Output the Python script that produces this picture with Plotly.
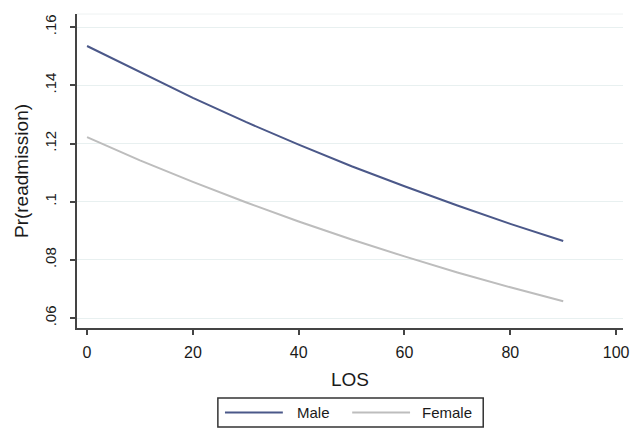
import plotly.graph_objects as go

los = [0, 10, 20, 30, 40, 50, 60, 70, 80, 90]
male = [0.1535, 0.1445, 0.1357, 0.1274, 0.1196, 0.1122, 0.1053, 0.0987, 0.0924, 0.0865]
female = [0.1222, 0.1142, 0.1068, 0.0998, 0.0932, 0.0870, 0.0812, 0.0757, 0.0706, 0.0658]
xticks = [0, 20, 40, 60, 80, 100]
yticks = [0.06, 0.08, 0.10, 0.12, 0.14, 0.16]
ylabels = [".06", ".08", ".1", ".12", ".14", ".16"]
series_names = ["Male", "Female"]
series_colors = ["#4b5889", "#bdbdbd"]

font = "Liberation Sans, Arial, sans-serif"

fig = go.Figure()
for vals, name, col in zip([male, female], series_names, series_colors):
    fig.add_trace(go.Scatter(x=los, y=vals, mode="lines", name=name,
                             line=dict(color=col, width=2)))

fig.update_layout(
    width=630, height=428,
    margin=dict(l=77, r=7, t=14, b=100),
    paper_bgcolor="white", plot_bgcolor="white",
    font=dict(family=font, size=17, color="#1a1a1a"),
    showlegend=False,
    xaxis=dict(range=[-1.9, 101.3], tickvals=xticks, showgrid=False, zeroline=False,
               automargin=False,
               showline=True, linecolor="#444", linewidth=2,
               ticks="outside", ticklen=5, tickcolor="#444", tickwidth=1.5,
               ticklabeloverflow="allow", ticklabelstandoff=4,
               tickfont=dict(size=16),
               title=dict(text="LOS", font=dict(size=19), standoff=12)),
    yaxis=dict(range=[0.0566, 0.1645], tickvals=yticks, ticktext=ylabels, tickangle=-90,
               automargin=False,
               showgrid=True, gridcolor="#e8f0f0", gridwidth=1, zeroline=False,
               showline=True, linecolor="#444", linewidth=2,
               ticks="outside", ticklen=5, tickcolor="#444", tickwidth=1.5,
               ticklabelstandoff=8, tickfont=dict(size=15),
               title=dict(text="Pr(readmission)", font=dict(size=19), standoff=8)),
)
fig.add_shape(type="line", xref="paper", yref="paper", x0=0, x1=1, y0=1, y1=1,
              line=dict(color="#eef2f2", width=1))

# legend box drawn manually to match the longer key lines
fig.add_shape(type="rect", xref="paper", yref="paper", x0=0.258, x1=0.744,
              y0=-0.315, y1=-0.223, line=dict(color="#333", width=1.5),
              fillcolor="white")
key_x = [(0.271, 0.377, 0.399), (0.504, 0.610, 0.628)]
for (a, b, t), name, col in zip(key_x, series_names, series_colors):
    fig.add_shape(type="line", xref="paper", yref="paper", x0=a, x1=b,
                  y0=-0.269, y1=-0.269, line=dict(color=col, width=2))
    fig.add_annotation(xref="paper", yref="paper", x=t, y=-0.269, text=name,
                       showarrow=False, xanchor="left", yanchor="middle",
                       font=dict(size=15, color="#1a1a1a"))

fig.write_html("out.html", config={"displayModeBar": False},
               post_script="document.body.style.margin='0';document.body.style.overflow='hidden';")
